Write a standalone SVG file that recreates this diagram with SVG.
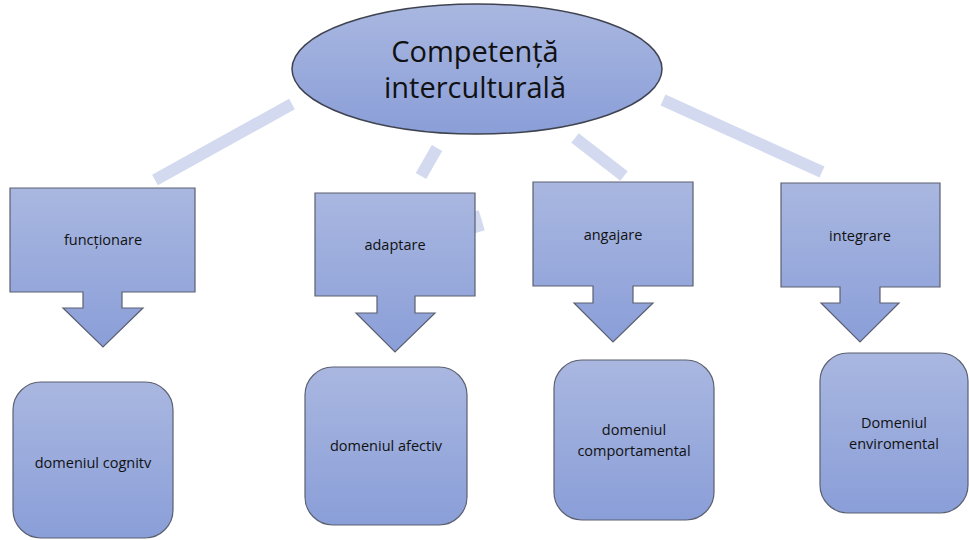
<svg xmlns="http://www.w3.org/2000/svg" width="969" height="540" viewBox="0 0 969 540">
  <defs>
    <linearGradient id="fill" x1="0" y1="0" x2="0" y2="1">
      <stop offset="0" stop-color="#a9b7e0"/>
      <stop offset="1" stop-color="#8a9ed8"/>
    </linearGradient>
  </defs>
  <style>
    .shape { fill: url(#fill); stroke: #5b6070; stroke-width: 1.2; }
    .oval { stroke: #3f4350; stroke-width: 1.5; }
    .link { stroke: #d3daf0; stroke-width: 12; fill: none; stroke-linecap: butt; }
    .lbl { font-family: "Open Sans", "Liberation Sans", sans-serif; font-size: 14.5px; fill: #111; text-anchor: middle; }
    .title { font-family: "Open Sans", "Liberation Sans", sans-serif; font-size: 29px; fill: #111; text-anchor: middle; }
  </style>
  <rect width="969" height="540" fill="#ffffff"/>

  <!-- connectors from the central ellipse -->
  <g id="connectors">
    <line class="link" x1="292" y1="104" x2="155" y2="180"/>
    <line class="link" x1="437" y1="148" x2="421" y2="176"/>
    <line class="link" x1="473" y1="212" x2="479" y2="232"/>
    <line class="link" x1="575" y1="138" x2="624" y2="176"/>
    <line class="link" x1="663" y1="100" x2="822" y2="172"/>
  </g>

  <g id="center">
    <ellipse class="shape oval" cx="477" cy="69" rx="185" ry="65"/>
    <text class="title" x="475" y="62">Competență</text>
    <text class="title" x="475" y="98">interculturală</text>
  </g>

  <g id="functionare">
    <path class="shape" d="M10,188 H195 V292 H122 V308 H143 L103,347 L63,308 H83 V292 H10 Z"/>
    <text class="lbl" x="103" y="245">funcționare</text>
  </g>
  <g id="adaptare">
    <path class="shape" d="M315,193 H475 V296 H415 V313 H435 L395,352 L356,313 H377 V296 H315 Z"/>
    <text class="lbl" x="395" y="250">adaptare</text>
  </g>
  <g id="angajare">
    <path class="shape" d="M533,182 H693 V286 H633 V303 H653 L613,342 L574,303 H593 V286 H533 Z"/>
    <text class="lbl" x="613" y="240">angajare</text>
  </g>
  <g id="integrare">
    <path class="shape" d="M781,183 H940 V287 H880 V303 H899 L860,342 L821,303 H840 V287 H781 Z"/>
    <text class="lbl" x="860" y="241">integrare</text>
  </g>

  <g id="cognitiv">
    <rect class="shape" x="13" y="382" width="160" height="156" rx="28"/>
    <text class="lbl" x="93" y="468">domeniul cognitv</text>
  </g>
  <g id="afectiv">
    <rect class="shape" x="305" y="367" width="162" height="158" rx="28"/>
    <text class="lbl" x="386" y="451">domeniul afectiv</text>
  </g>
  <g id="comportamental">
    <rect class="shape" x="554" y="360" width="160" height="160" rx="28"/>
    <text class="lbl" x="634" y="435">domeniul</text>
    <text class="lbl" x="634" y="456">comportamental</text>
  </g>
  <g id="enviromental">
    <rect class="shape" x="820" y="353" width="148" height="160" rx="28"/>
    <text class="lbl" x="894" y="428">Domeniul</text>
    <text class="lbl" x="894" y="449">enviromental</text>
  </g>
</svg>
